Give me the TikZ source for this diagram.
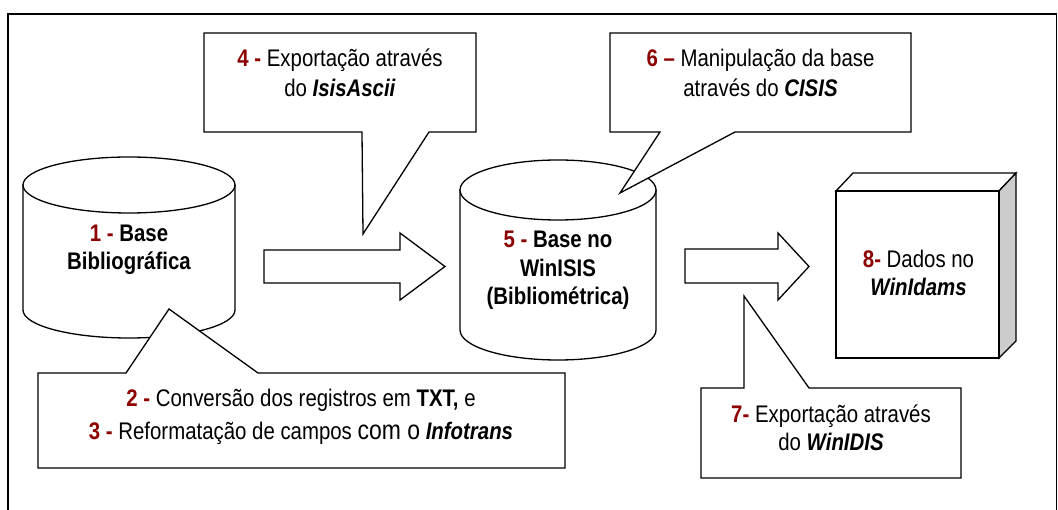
\documentclass[tikz,border=0pt]{standalone}
\usepackage{fontspec}
\setmainfont{Liberation Sans}[FakeStretch=0.85]
\definecolor{numred}{RGB}{140,0,0}
\definecolor{sidegray}{RGB}{204,204,204}
\newcommand\redno[1]{\textcolor{numred}{\textbf{#1}}}
\newcommand\topstr{\rule{0pt}{20pt}}
\newcommand\botstr{\rule[-20pt]{0pt}{20pt}}
\begin{document}
\begin{tikzpicture}[x=1pt,y=-1pt,
  shapeline/.style={draw=black,fill=white,line width=1.3pt,line join=miter},
  txt/.style={align=center,font=\fontsize{24}{28}\selectfont,inner sep=0pt}]
\useasboundingbox (0,0) rectangle (1058,510);
% outer frame
\draw[line width=1.5pt] (8,512) -- (8,14) -- (1056.5,14) -- (1056.5,512);
% cylinder 1
\draw[shapeline] (23,185) -- (23,310) arc[start angle=180,end angle=0,x radius=106,y radius=28] -- (235,185) -- cycle;
\draw[shapeline] (129,185) ellipse[x radius=106,y radius=28];
\node[txt] (c1) at (129,256) {\topstr\redno{1 -} \textbf{Base}\\\textbf{Bibliográfica}\botstr};
% cylinder 5
\draw[shapeline] (460,190) -- (460,330) arc[start angle=180,end angle=0,x radius=98,y radius=30] -- (656,190) -- cycle;
\draw[shapeline] (558,190) ellipse[x radius=98,y radius=30];
\node[txt,font=\fontsize{24}{28.5}\selectfont] (c5) at (558,276.5) {\topstr\redno{5 -} \textbf{Base no}\\\textbf{WinISIS}\\\textbf{(Bibliométrica)}\botstr};
% block arrows
\draw[shapeline] (264,250) -- (400,250) -- (400,233) -- (445,266.5) -- (400,300) -- (400,283) -- (264,283) -- cycle;
\draw[shapeline] (685,249) -- (778,249) -- (778,233) -- (809,266.5) -- (778,300) -- (778,283) -- (685,283) -- cycle;
% cube 8
\draw[shapeline] (836,191) -- (853,173) -- (1016,173) -- (999,191) -- cycle;
\draw[shapeline,fill=sidegray] (999,191) -- (1016,173) -- (1016,341) -- (999,358) -- cycle;
\draw[shapeline] (836,191) rectangle (999,358);
\node[txt] (c8) at (918.5,282) {\topstr\redno{8-} Dados no\\\textbf{\itshape WinIdams}\botstr};
% callout 4
\draw[shapeline] (204,33) -- (476,33) -- (476,132) -- (429,132) -- (363,234) -- (362,132) -- (204,132) -- cycle;
\node[txt,font=\fontsize{24}{30}\selectfont] (t4) at (340,82) {\topstr\redno{4 -} Exportação através\\do \textbf{\itshape IsisAscii}\botstr};
% callout 6
\draw[shapeline] (610,33) -- (911,33) -- (911,132) -- (735,132) -- (620,193) -- (660,132) -- (610,132) -- cycle;
\node[txt,font=\fontsize{24}{30}\selectfont] (t6) at (760.5,82) {\topstr\redno{6 –} Manipulação da base\\através do \textbf{\itshape CISIS}\botstr};
% callout 2/3
\draw[shapeline] (38,373) -- (126,373) -- (169,309) -- (258,373) -- (565,373) -- (565,468) -- (38,468) -- cycle;
\node[txt,font=\fontsize{24}{33}\selectfont] (t2) at (301,423.5) {\topstr\redno{2 -} Conversão dos registros em \textbf{TXT,} e\\\redno{3 -} Reformatação de campos {\fontsize{27}{33}\selectfont com o} \textbf{\itshape Infotrans}\botstr};
% callout 7
\draw[shapeline] (701,388) -- (744,388) -- (744,296) -- (809,388) -- (961,388) -- (961,478) -- (701,478) -- cycle;
\node[txt] (t7) at (831,436) {\topstr\redno{7-} Exportação através\\do \textbf{\itshape WinIDIS}\botstr};
\end{tikzpicture}
\end{document}
